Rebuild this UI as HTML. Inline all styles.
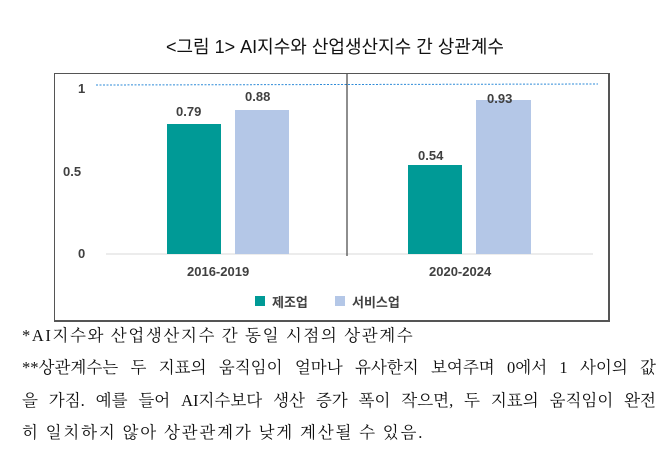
<!DOCTYPE html>
<html><head><meta charset="utf-8"><style>
body{margin:0;width:670px;height:467px;background:#fff;position:relative;overflow:hidden;font-family:"Liberation Sans","Noto Sans CJK KR",sans-serif}
.a{position:absolute}
.t{font-family:"Liberation Serif","Noto Serif CJK KR",serif;font-size:16.5px;color:#111;left:22px;width:634px;text-align:justify;text-align-last:justify;white-space:nowrap}
.lab{font-weight:bold;font-size:13px;color:#404040}
</style></head><body>
<div class="a" style="left:0;width:670px;top:33px;text-align:center;font-size:18px;color:#111">&lt;그림 1&gt; AI지수와 산업생산지수 간 상관계수</div>
<div class="a" style="left:54px;top:73px;width:553px;height:246px;border:1px solid #555;border-bottom-width:2px;border-right-width:2px"></div>
<svg class="a" style="left:0;top:0" width="670" height="467">
<line x1="96" y1="85" x2="598" y2="84" stroke="#2e8bd8" stroke-width="1" stroke-dasharray="2,1.5"/>
<line x1="106" y1="254" x2="593" y2="254" stroke="#d9d9d9" stroke-width="1"/>
<line x1="347" y1="74" x2="347" y2="256" stroke="#444" stroke-width="1.2"/>
<rect x="167" y="124" width="54" height="130" fill="#009a96"/>
<rect x="235" y="110" width="54" height="144" fill="#b4c7e7"/>
<rect x="408" y="165" width="54" height="89" fill="#009a96"/>
<rect x="476" y="100" width="55" height="154" fill="#b4c7e7"/>
<rect x="255" y="296" width="10" height="10" fill="#009a96"/>
<rect x="335" y="296" width="10" height="10" fill="#b4c7e7"/>
</svg>
<div class="a lab" style="left:78px;top:81px">1</div>
<div class="a lab" style="left:63px;top:164px">0.5</div>
<div class="a lab" style="left:78px;top:246px">0</div>
<div class="a lab" style="left:176px;top:104px">0.79</div>
<div class="a lab" style="left:245px;top:89px">0.88</div>
<div class="a lab" style="left:418px;top:148px">0.54</div>
<div class="a lab" style="left:487px;top:91px">0.93</div>
<div class="a lab" style="left:187px;top:264px">2016-2019</div>
<div class="a lab" style="left:429px;top:264px">2020-2024</div>
<div class="a lab" style="left:272px;top:292px">제조업</div>
<div class="a lab" style="left:352px;top:292px">서비스업</div>
<div class="a t" style="top:322px;text-align-last:auto;letter-spacing:1.6px">*AI지수와 산업생산지수 간 동일 시점의 상관계수</div>
<div class="a t" style="top:354px">**상관계수는 두 지표의 움직임이 얼마나 유사한지 보여주며 0에서 1 사이의 값</div>
<div class="a t" style="top:387px">을 가짐. 예를 들어 AI지수보다 생산 증가 폭이 작으면, 두 지표의 움직임이 완전</div>
<div class="a t" style="top:419px;text-align-last:auto;letter-spacing:1.8px">히 일치하지 않아 상관관계가 낮게 계산될 수 있음.</div>
</body></html>
